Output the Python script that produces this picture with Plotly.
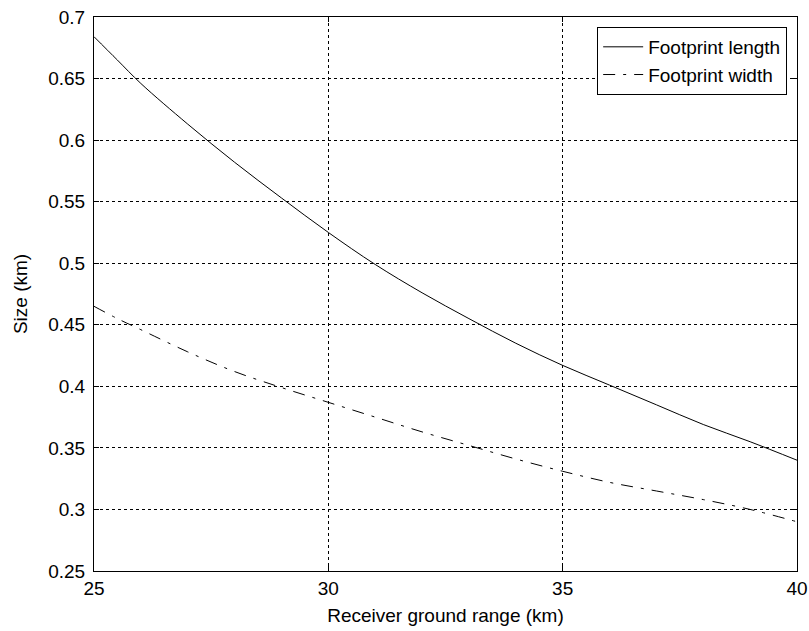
import plotly.graph_objects as go

range_km = [25, 25.5, 26, 27, 28, 29, 30, 31, 32, 33, 34, 35, 36, 37, 38, 39, 40]
footprint_length = [0.684, 0.665, 0.646, 0.613, 0.582, 0.553, 0.525, 0.499, 0.476, 0.455, 0.435, 0.417, 0.401, 0.385, 0.369, 0.355, 0.340]
footprint_width = [0.465, 0.455, 0.446, 0.428, 0.412, 0.399, 0.387, 0.375, 0.363, 0.352, 0.341, 0.331, 0.322, 0.315, 0.308, 0.300, 0.290]

x_ticks = [25, 30, 35, 40]
y_ticks = [0.25, 0.3, 0.35, 0.4, 0.45, 0.5, 0.55, 0.6, 0.65, 0.7]
y_ticktext = ["0.25", "0.3", "0.35", "0.4", "0.45", "0.5", "0.55", "0.6", "0.65", "0.7"]

FONT = "Liberation Sans, Arial"

fig = go.Figure()
fig.add_trace(go.Scatter(x=range_km, y=footprint_length, mode="lines", name="Footprint length",
                         line=dict(color="black", width=1, shape="spline")))
fig.add_trace(go.Scatter(x=range_km, y=footprint_width, mode="lines", name="Footprint width",
                         line=dict(color="black", width=1, dash="12px,8px,3px,8px", shape="spline")))

axis_common = dict(showline=True, linecolor="black", linewidth=1, mirror="ticks",
                   ticks="inside", ticklen=5, tickcolor="black",
                   showgrid=True, gridcolor="black", gridwidth=1, griddash="3px,3px",
                   zeroline=False, automargin=False,
                   tickfont=dict(family=FONT, size=19, color="black"))

fig.update_xaxes(range=[25, 40], tickvals=x_ticks, ticktext=[str(v) for v in x_ticks],
                 title=dict(text="Receiver ground range (km)", standoff=10,
                            font=dict(family=FONT, size=19, color="black")),
                 **axis_common)
fig.update_yaxes(range=[0.25, 0.7], tickvals=y_ticks, ticktext=y_ticktext,
                 ticklabelstandoff=4,
                 title=dict(text="Size (km)", standoff=15,
                            font=dict(family=FONT, size=19, color="black")),
                 **axis_common)

fig.update_layout(
    width=809, height=631,
    margin=dict(l=94, r=12, t=17, b=60, pad=0),
    paper_bgcolor="white", plot_bgcolor="white",
    font=dict(family=FONT, size=19, color="black"),
    legend=dict(x=0.986, y=0.982, xanchor="right", yanchor="top",
                bgcolor="white", bordercolor="black", borderwidth=1,
                font=dict(family=FONT, size=19, color="black"),
                itemwidth=40, tracegroupgap=0),
    showlegend=True,
)

fig.write_html("out.html")
